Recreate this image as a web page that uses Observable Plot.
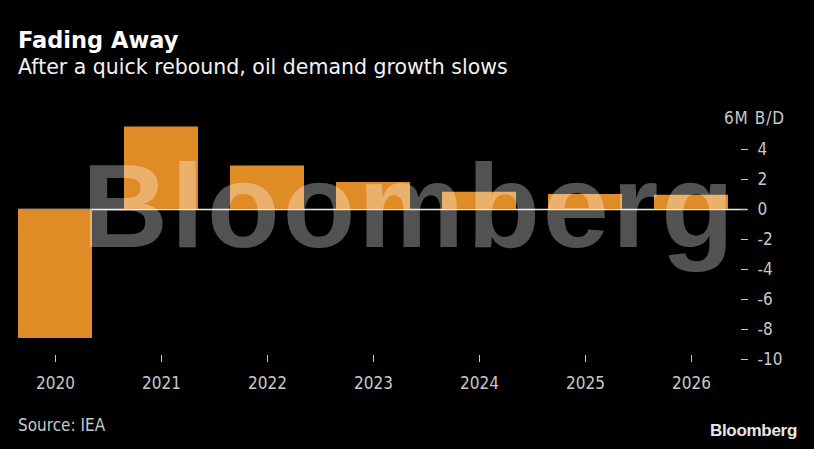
<!DOCTYPE html>
<html>
<head>
<meta charset="utf-8">
<script src="https://cdn.jsdelivr.net/npm/d3@7"></script>
<script src="https://cdn.jsdelivr.net/npm/@observablehq/plot@0.6"></script>
<style>
  html, body { margin: 0; padding: 0; background: #000; }
  #wrap { position: relative; width: 814px; height: 449px; background: #000; overflow: hidden; }
  #title { position: absolute; left: 18px; top: 27px; font-family: "DejaVu Sans", sans-serif; font-weight: bold; font-size: 22.5px; color: #fff; white-space: nowrap; }
  #subtitle { position: absolute; left: 18px; top: 55px; font-family: "DejaVu Sans", sans-serif; font-size: 20.5px; color: #f2f2f2; white-space: nowrap; }
  #chart { position: absolute; left: 0; top: 100px; }
  #source { position: absolute; left: 18px; top: 415px; font-family: "DejaVu Sans Condensed", "Liberation Sans Narrow", "DejaVu Sans", sans-serif; font-size: 17px; color: #c8c8c8; white-space: nowrap; }
  #logo { position: absolute; right: 17px; top: 421px; font-family: "Liberation Sans", Arial, sans-serif; font-weight: bold; font-size: 17px; color: #e6e6e6; letter-spacing: -0.3px; white-space: nowrap; }
</style>
</head>
<body>
<div id="wrap">
  <div id="title">Fading Away</div>
  <div id="subtitle">After a quick rebound, oil demand growth slows</div>
  <div id="chart"></div>
  <div id="source">Source: IEA</div>
  <div id="logo">Bloomberg</div>
</div>
<script>
const years = ["2020", "2021", "2022", "2023", "2024", "2025", "2026"];
const growth = [-8.6, 5.5, 2.9, 1.8, 1.15, 1.0, 0.95];
const yTicks = [4, 2, 0, -2, -4, -6, -8, -10];
const unitLabel = "6M B/D";
const watermark = "Bloomberg";

const data = years.map((y, i) => ({year: y, value: growth[i]}));
const tickFont = "'DejaVu Sans Condensed', 'Liberation Sans Narrow', 'DejaVu Sans', sans-serif";

const chart = Plot.plot({
  width: 814,
  height: 294,
  marginTop: 19,
  marginBottom: 35,
  marginLeft: 6,
  marginRight: 74,
  style: { background: "transparent", color: "#c8c8c8", fontFamily: tickFont, fontSize: "17px" },
  x: { domain: years, paddingInner: 0.3, paddingOuter: 0.111, axis: null },
  y: { domain: [-10, 6], axis: null },
  marks: [
    Plot.ruleY([0], { stroke: "#e8e8e8", strokeWidth: 1.5, insetLeft: 12, insetRight: -7 }),
    Plot.barY(data, { x: "year", y: "value", fill: "#df8c27" }),
    Plot.text([watermark], {
      frameAnchor: "middle", dx: 36, dy: -31, text: d => d,
      fontFamily: "'Liberation Sans', Arial, sans-serif", fontWeight: "bold",
      fontSize: 119, fill: "#ffffff", fillOpacity: 0.32, lineAnchor: "middle"
    }),
    Plot.axisX({ label: null, tickSize: 7, tickPadding: 14, dy: -4, stroke: "#c8c8c8", fill: "#c8c8c8", fontSize: 17, fontFamily: tickFont }),
    Plot.axisY({ label: null, anchor: "right", ticks: yTicks, tickSize: 7, tickPadding: 10, textAnchor: "start", stroke: "#c8c8c8", fill: "#c8c8c8", fontSize: 17, fontFamily: tickFont, tickFormat: d => String(d) }),
    Plot.text([unitLabel], { frameAnchor: "top-right", dx: 14, dy: -1, text: d => d, textAnchor: "middle", lineAnchor: "middle", fill: "#c8c8c8", fontSize: 17, fontFamily: tickFont })
  ]
});
d3.select(chart).selectAll("text")
  .filter(function() { return this.textContent === watermark; })
  .style("letter-spacing", "3px");
d3.select(chart).selectAll("text")
  .filter(function() { return this.textContent === unitLabel; })
  .style("letter-spacing", "1px");
document.getElementById("chart").appendChild(chart);
</script>
</body>
</html>
